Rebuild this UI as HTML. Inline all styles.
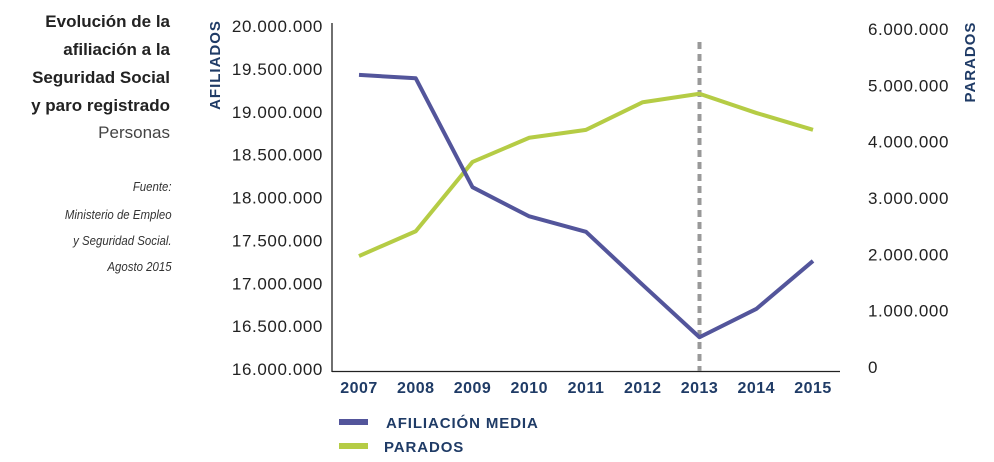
<!DOCTYPE html>
<html><head><meta charset="utf-8"><style>
body{margin:0;width:994px;height:462px;background:#fff;overflow:hidden;font-family:"Liberation Sans",sans-serif}
</style></head><body>
<svg width="994" height="462" style="position:absolute;left:0;top:0">
<g font-weight="bold" font-size="17" fill="#222" text-anchor="end">
<text x="170" y="27">Evolución de la</text>
<text x="170" y="55">afiliación a la</text>
<text x="170" y="83">Seguridad Social</text>
<text x="170" y="111">y paro registrado</text>
<text x="170" y="138" font-weight="normal" fill="#444">Personas</text>
</g>
<g font-style="italic" font-size="13" fill="#333" text-anchor="end" transform="scale(0.88,1)">
<text x="195" y="191">Fuente:</text>
<text x="195" y="219">Ministerio de Empleo</text>
<text x="195" y="245">y Seguridad Social.</text>
<text x="195" y="271">Agosto 2015</text>
</g>
<text transform="translate(220,65) rotate(-90)" text-anchor="middle" font-weight="bold" font-size="15" letter-spacing="1" fill="#1f3b66">AFILIADOS</text>
<text transform="translate(975,62) rotate(-90)" text-anchor="middle" font-weight="bold" font-size="15" letter-spacing="1" fill="#1f3b66">PARADOS</text>
<g id="axes"></g>
<g id="marks"></g>
<g>
<rect x="339" y="419" width="29" height="6" fill="#53559b"/>
<text x="386" y="428" font-weight="bold" font-size="15" letter-spacing="0.9" fill="#1f3b66">AFILIACIÓN MEDIA</text>
<rect x="339" y="443" width="29" height="6" fill="#b5cc45"/>
<text x="384" y="452" font-weight="bold" font-size="15" letter-spacing="0.9" fill="#1f3b66">PARADOS</text>
</g>
</svg>
<script>
const years=["2007","2008","2009","2010","2011","2012","2013","2014","2015"];
const afiliacion=[19430000,19390000,18120000,17780000,17600000,16980000,16370000,16700000,17260000];
const parados=[1970000,2410000,3640000,4070000,4210000,4700000,4850000,4510000,4210000];
const leftTicks=[16000000,16500000,17000000,17500000,18000000,18500000,19000000,19500000,20000000];
const rightTicks=[0,1000000,2000000,3000000,4000000,5000000,6000000];
const markerYear="2013";
const NS="http://www.w3.org/2000/svg";
function X(i){return 359+i*56.75;}
function YL(v){return 369-(v-16000000)/4000000*343;}
function YR(v){return 367-v/6000000*338;}
function fmt(v){return v===0?"0":v.toString().replace(/\B(?=(\d{3})+(?!\d))/g,".");}
function mk(tag,attrs,parent){const e=document.createElementNS(NS,tag);for(const k in attrs)e.setAttribute(k,attrs[k]);parent.appendChild(e);return e;}
const axes=document.getElementById('axes'),marks=document.getElementById('marks');
let a=mk('line',{x1:332,y1:23,x2:332,y2:372,stroke:'#222','stroke-width':1.3},axes);


a=mk('line',{x1:332,y1:371.5,x2:840,y2:371.5,stroke:'#222','stroke-width':1.3},axes);


leftTicks.forEach(v=>{const t=mk('text',{x:323,y:YL(v)+6,'text-anchor':'end','font-size':17,'letter-spacing':0.6,fill:'#222'},axes);t.textContent=fmt(v);

});
rightTicks.forEach(v=>{const t=mk('text',{x:868,y:YR(v)+6,'text-anchor':'start','font-size':17,'letter-spacing':0.6,fill:'#222'},axes);t.textContent=fmt(v);

});
years.forEach((y,i)=>{const t=mk('text',{x:X(i),y:393,'text-anchor':'middle','font-size':16,'font-weight':'bold','letter-spacing':0.5,fill:'#1f3b66'},axes);t.textContent=y;

});
const mi=years.indexOf(markerYear);
const d=mk('line',{x1:X(mi),y1:42,x2:X(mi),y2:371,stroke:'#999','stroke-width':4,'stroke-dasharray':'7,5'},marks);


let p=mk('polyline',{points:parados.map((v,i)=>X(i)+','+YR(v)).join(' '),fill:'none',stroke:'#b5cc45','stroke-width':4,'stroke-linejoin':'round'},marks);


p=mk('polyline',{points:afiliacion.map((v,i)=>X(i)+','+YL(v)).join(' '),fill:'none',stroke:'#53559b','stroke-width':4,'stroke-linejoin':'round'},marks);


</script>
</body></html>
